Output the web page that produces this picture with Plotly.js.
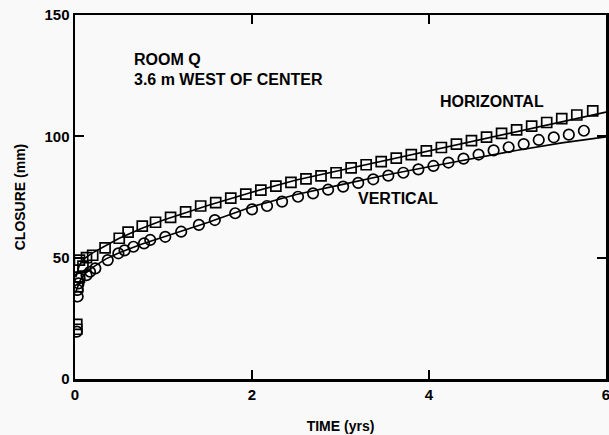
<!DOCTYPE html>
<html><head><meta charset="utf-8">
<script src="https://cdn.plot.ly/plotly-3.0.1.min.js"></script>
<style>body{margin:0;background:#f9f9f9}</style>
</head><body><div id="chart" style="width:609px;height:435px"></div>
<script>
// Horizontal closure (squares)
const horizT = [0.02,0.02,0.03,0.05,0.05,0.09,0.13,0.2,0.34,0.5,0.6,0.76,0.91,1.08,1.25,1.42,1.59,1.76,1.93,2.1,2.27,2.44,2.61,2.78,2.95,3.12,3.29,3.46,3.63,3.8,3.97,4.14,4.31,4.48,4.65,4.82,4.99,5.16,5.33,5.5,5.67,5.85];
const horizV = [20.5,22.5,38,42,49,46.5,50,51,54,58,60.5,63,64.6,66.6,68.9,71.3,72.7,74.5,76.2,77.8,79.5,81,82.5,83.7,85,87,88.3,89.6,91,92.5,94,95.4,96.8,98.2,99.7,101.2,102.7,104.2,105.7,107.3,108.8,110.5];
// Vertical closure (circles)
const vertT = [0.02,0.03,0.03,0.04,0.05,0.13,0.17,0.23,0.37,0.49,0.56,0.66,0.78,0.85,1.02,1.2,1.4,1.58,1.81,2.0,2.17,2.34,2.52,2.69,2.86,3.03,3.2,3.37,3.54,3.71,3.88,4.05,4.22,4.39,4.56,4.73,4.9,5.07,5.24,5.41,5.58,5.75];
const vertV = [19.5,34,36.7,39.4,41.5,42.8,44.2,45.6,49,51.8,53,54.5,55.9,57.3,58.6,60.7,63.5,65.5,68.3,69.9,71.3,73.1,75.1,76.5,78,79.3,80.8,82.3,83.8,85,86.4,87.8,89.2,90.8,92.5,94.2,95.5,96.8,98.5,99.6,100.7,102.3];
// Calculated curves (solid lines)
const calcT = [0.01,0.05,0.1,0.2,0.35,0.5,0.75,1,1.5,2,2.5,3,3.5,4,4.5,5,5.5,6];
const calcHoriz = [42,47,49.5,52,55,58,62,65.5,71.5,77,82,86,90,94,98,102,106,110];
const calcVert = [36,40,43,46,49.5,52,55.5,58.5,64.5,71,76,80,84,87.5,91,94.3,97.3,99.8];

const xTicks = [0,2,4,6];
const yTicks = [0,50,100,150];

const F = 'Arial, "Liberation Sans", sans-serif';
const traces = [
  {x: calcT, y: calcHoriz, mode:'lines', line:{color:'#000', width:1.6}, hoverinfo:'skip'},
  {x: calcT, y: calcVert, mode:'lines', line:{color:'#000', width:1.6}, hoverinfo:'skip'},
  {x: horizT, y: horizV, mode:'markers', marker:{symbol:'square-open', size:10, color:'#000', line:{width:1.7, color:'#000'}}},
  {x: vertT, y: vertV, mode:'markers', marker:{symbol:'circle-open', size:10.5, color:'#000', line:{width:1.7, color:'#000'}}}
];
const axisCommon = {showgrid:false, zeroline:false, showline:true, linecolor:'#000', linewidth:2.5, mirror:'ticks', ticks:'inside', ticklen:9, tickwidth:2, tickcolor:'#000', ticklabeloverflow:'allow', tickfont:{family:F, size:15, color:'#000', weight:'bold'}};
const annFont = {family:F, size:16, weight:'bold', color:'#000'};
const layout = {
  width:609, height:435,
  paper_bgcolor:'#f9f9f9', plot_bgcolor:'#f9f9f9',
  margin:{l:75, r:3, t:15, b:56},
  showlegend:false,
  font:{family:F, color:'#000'},
  xaxis: Object.assign({}, axisCommon, {range:[0,6], tickvals:xTicks, ticktext:xTicks.map(String),
    title:{text:'TIME (yrs)', font:{family:F, size:14, color:'#000', weight:'bold'}, standoff:20}}),
  yaxis: Object.assign({}, axisCommon, {range:[0,150], tickvals:yTicks, ticktext:yTicks.map(String),
    title:{text:'CLOSURE (mm)', font:{family:F, size:14, color:'#000', weight:'bold'}, standoff:16}}),
  annotations:[
    {text:'ROOM Q', x:0.64, y:131.5, xref:'x', yref:'y', showarrow:false, xanchor:'left', yanchor:'middle', font:annFont},
    {text:'3.6 m WEST OF CENTER', x:0.64, y:123.3, xref:'x', yref:'y', showarrow:false, xanchor:'left', yanchor:'middle', font:annFont},
    {text:'HORIZONTAL', x:4.1, y:114.5, xref:'x', yref:'y', showarrow:false, xanchor:'left', yanchor:'middle', font:annFont},
    {text:'VERTICAL', x:3.17, y:74.5, xref:'x', yref:'y', showarrow:false, xanchor:'left', yanchor:'middle', font:annFont}
  ]
};
Plotly.newPlot('chart', traces, layout, {displayModeBar:false, staticPlot:true});
</script></body></html>
